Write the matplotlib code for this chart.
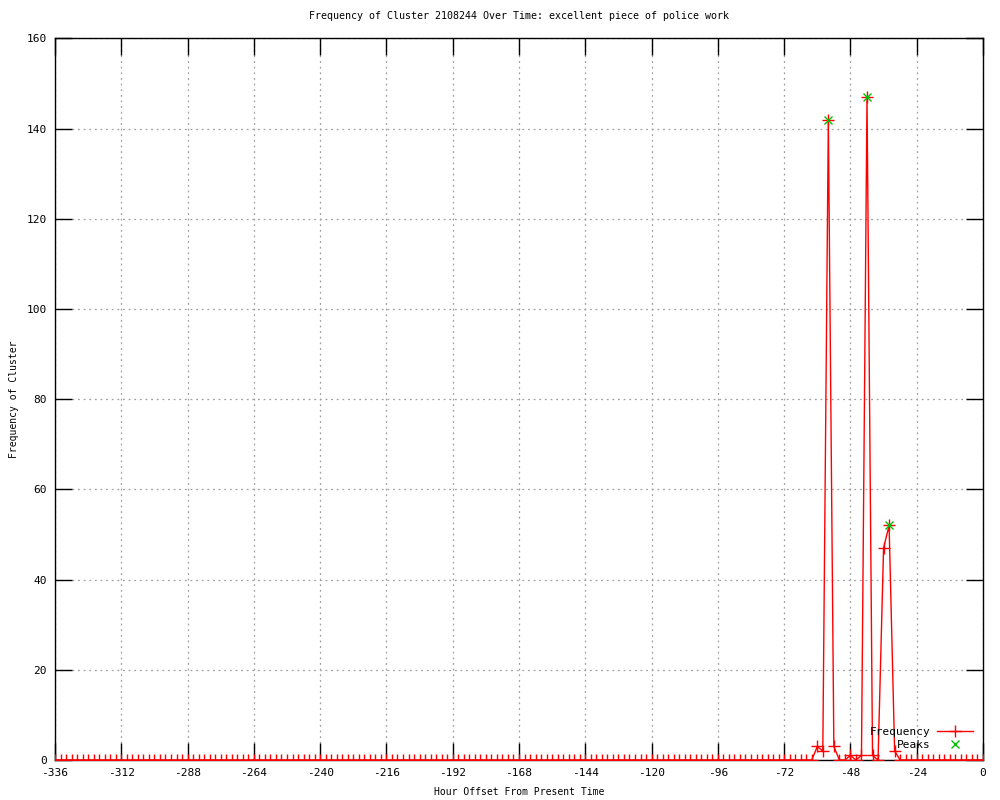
#!/usr/bin/env python3
"""Cluster frequency over time, gnuplot-style line chart."""

import numpy as np
import matplotlib
matplotlib.use('Agg')
import matplotlib.pyplot as plt

TITLE = 'Frequency of Cluster 2108244 Over Time: excellent piece of police work'
XLABEL = 'Hour Offset From Present Time'
YLABEL = 'Frequency of Cluster'

# sampled every 2 hours, -336 .. 0
HOURS = np.arange(-336, 1, 2)
FREQ = [
    0, 0, 0, 0, 0, 0, 0, 0, 0, 0, 0, 0,        # -336
    0, 0, 0, 0, 0, 0, 0, 0, 0, 0, 0, 0,        # -312
    0, 0, 0, 0, 0, 0, 0, 0, 0, 0, 0, 0,        # -288
    0, 0, 0, 0, 0, 0, 0, 0, 0, 0, 0, 0,        # -264
    0, 0, 0, 0, 0, 0, 0, 0, 0, 0, 0, 0,        # -240
    0, 0, 0, 0, 0, 0, 0, 0, 0, 0, 0, 0,        # -216
    0, 0, 0, 0, 0, 0, 0, 0, 0, 0, 0, 0,        # -192
    0, 0, 0, 0, 0, 0, 0, 0, 0, 0, 0, 0,        # -168
    0, 0, 0, 0, 0, 0, 0, 0, 0, 0, 0, 0,        # -144
    0, 0, 0, 0, 0, 0, 0, 0, 0, 0, 0, 0,        # -120
    0, 0, 0, 0, 0, 0, 0, 0, 0, 0, 0, 0,        # -96
    0, 0, 0, 0, 0, 0, 3, 2, 142, 3, 0, 0,      # -72
    1, 0, 1, 147, 1, 0, 47, 52, 2, 0, 0, 0,    # -48
    0, 0, 0, 0, 0, 0, 0, 0, 0, 0, 0, 0,        # -24
    0,                                         # 0
]

PEAK_HOURS = [-56, -42, -34]
PEAK_FREQ = [142, 147, 52]

XTICKS = np.arange(-336, 1, 24)
YTICKS = np.arange(0, 161, 20)

FONT = 'DejaVu Sans Mono'
FS = 7

plt.rcParams['axes.unicode_minus'] = False


def plot():
    fig = plt.figure(figsize=(10, 8), dpi=100)
    ax = fig.add_axes([0.055, 0.05, 0.928, 0.902])

    ax.plot(HOURS, FREQ, color='#ff0000', lw=1.0, marker='+', ms=8,
            mew=1.0, label='Frequency', zorder=3)
    ax.plot(PEAK_HOURS, PEAK_FREQ, ls='none', color='#00c000', marker='x',
            ms=6, mew=1.0, label='Peaks', zorder=4)

    ax.set_xlim(-336, 0)
    ax.set_ylim(0, 160)
    ax.set_xticks(XTICKS)
    ax.set_yticks(YTICKS)
    ax.tick_params(direction='in', length=12, width=1, top=True, right=True,
                   labelsize=FS + 1, pad=6)
    for lbl in ax.get_xticklabels() + ax.get_yticklabels():
        lbl.set_family(FONT)
    ax.grid(True, color='#a0a0a0', ls=(0, (1.5, 3)), lw=0.9)
    for sp in ax.spines.values():
        sp.set_linewidth(1)

    ax.set_title(TITLE, family=FONT, fontsize=FS + 0.2, pad=14)
    ax.set_xlabel(XLABEL, family=FONT, fontsize=FS, labelpad=6)
    ax.set_ylabel(YLABEL, family=FONT, fontsize=FS, labelpad=5)

    leg = ax.legend(loc='lower right', frameon=False, markerfirst=False,
                    prop={'family': FONT, 'size': FS + 1}, handlelength=3.2,
                    labelspacing=0.3, borderaxespad=0.5, handletextpad=0.6)
    for t in leg.get_texts():
        t.set_ha('right')

    fig.savefig('out.png', dpi=100)


if __name__ == '__main__':
    plot()
